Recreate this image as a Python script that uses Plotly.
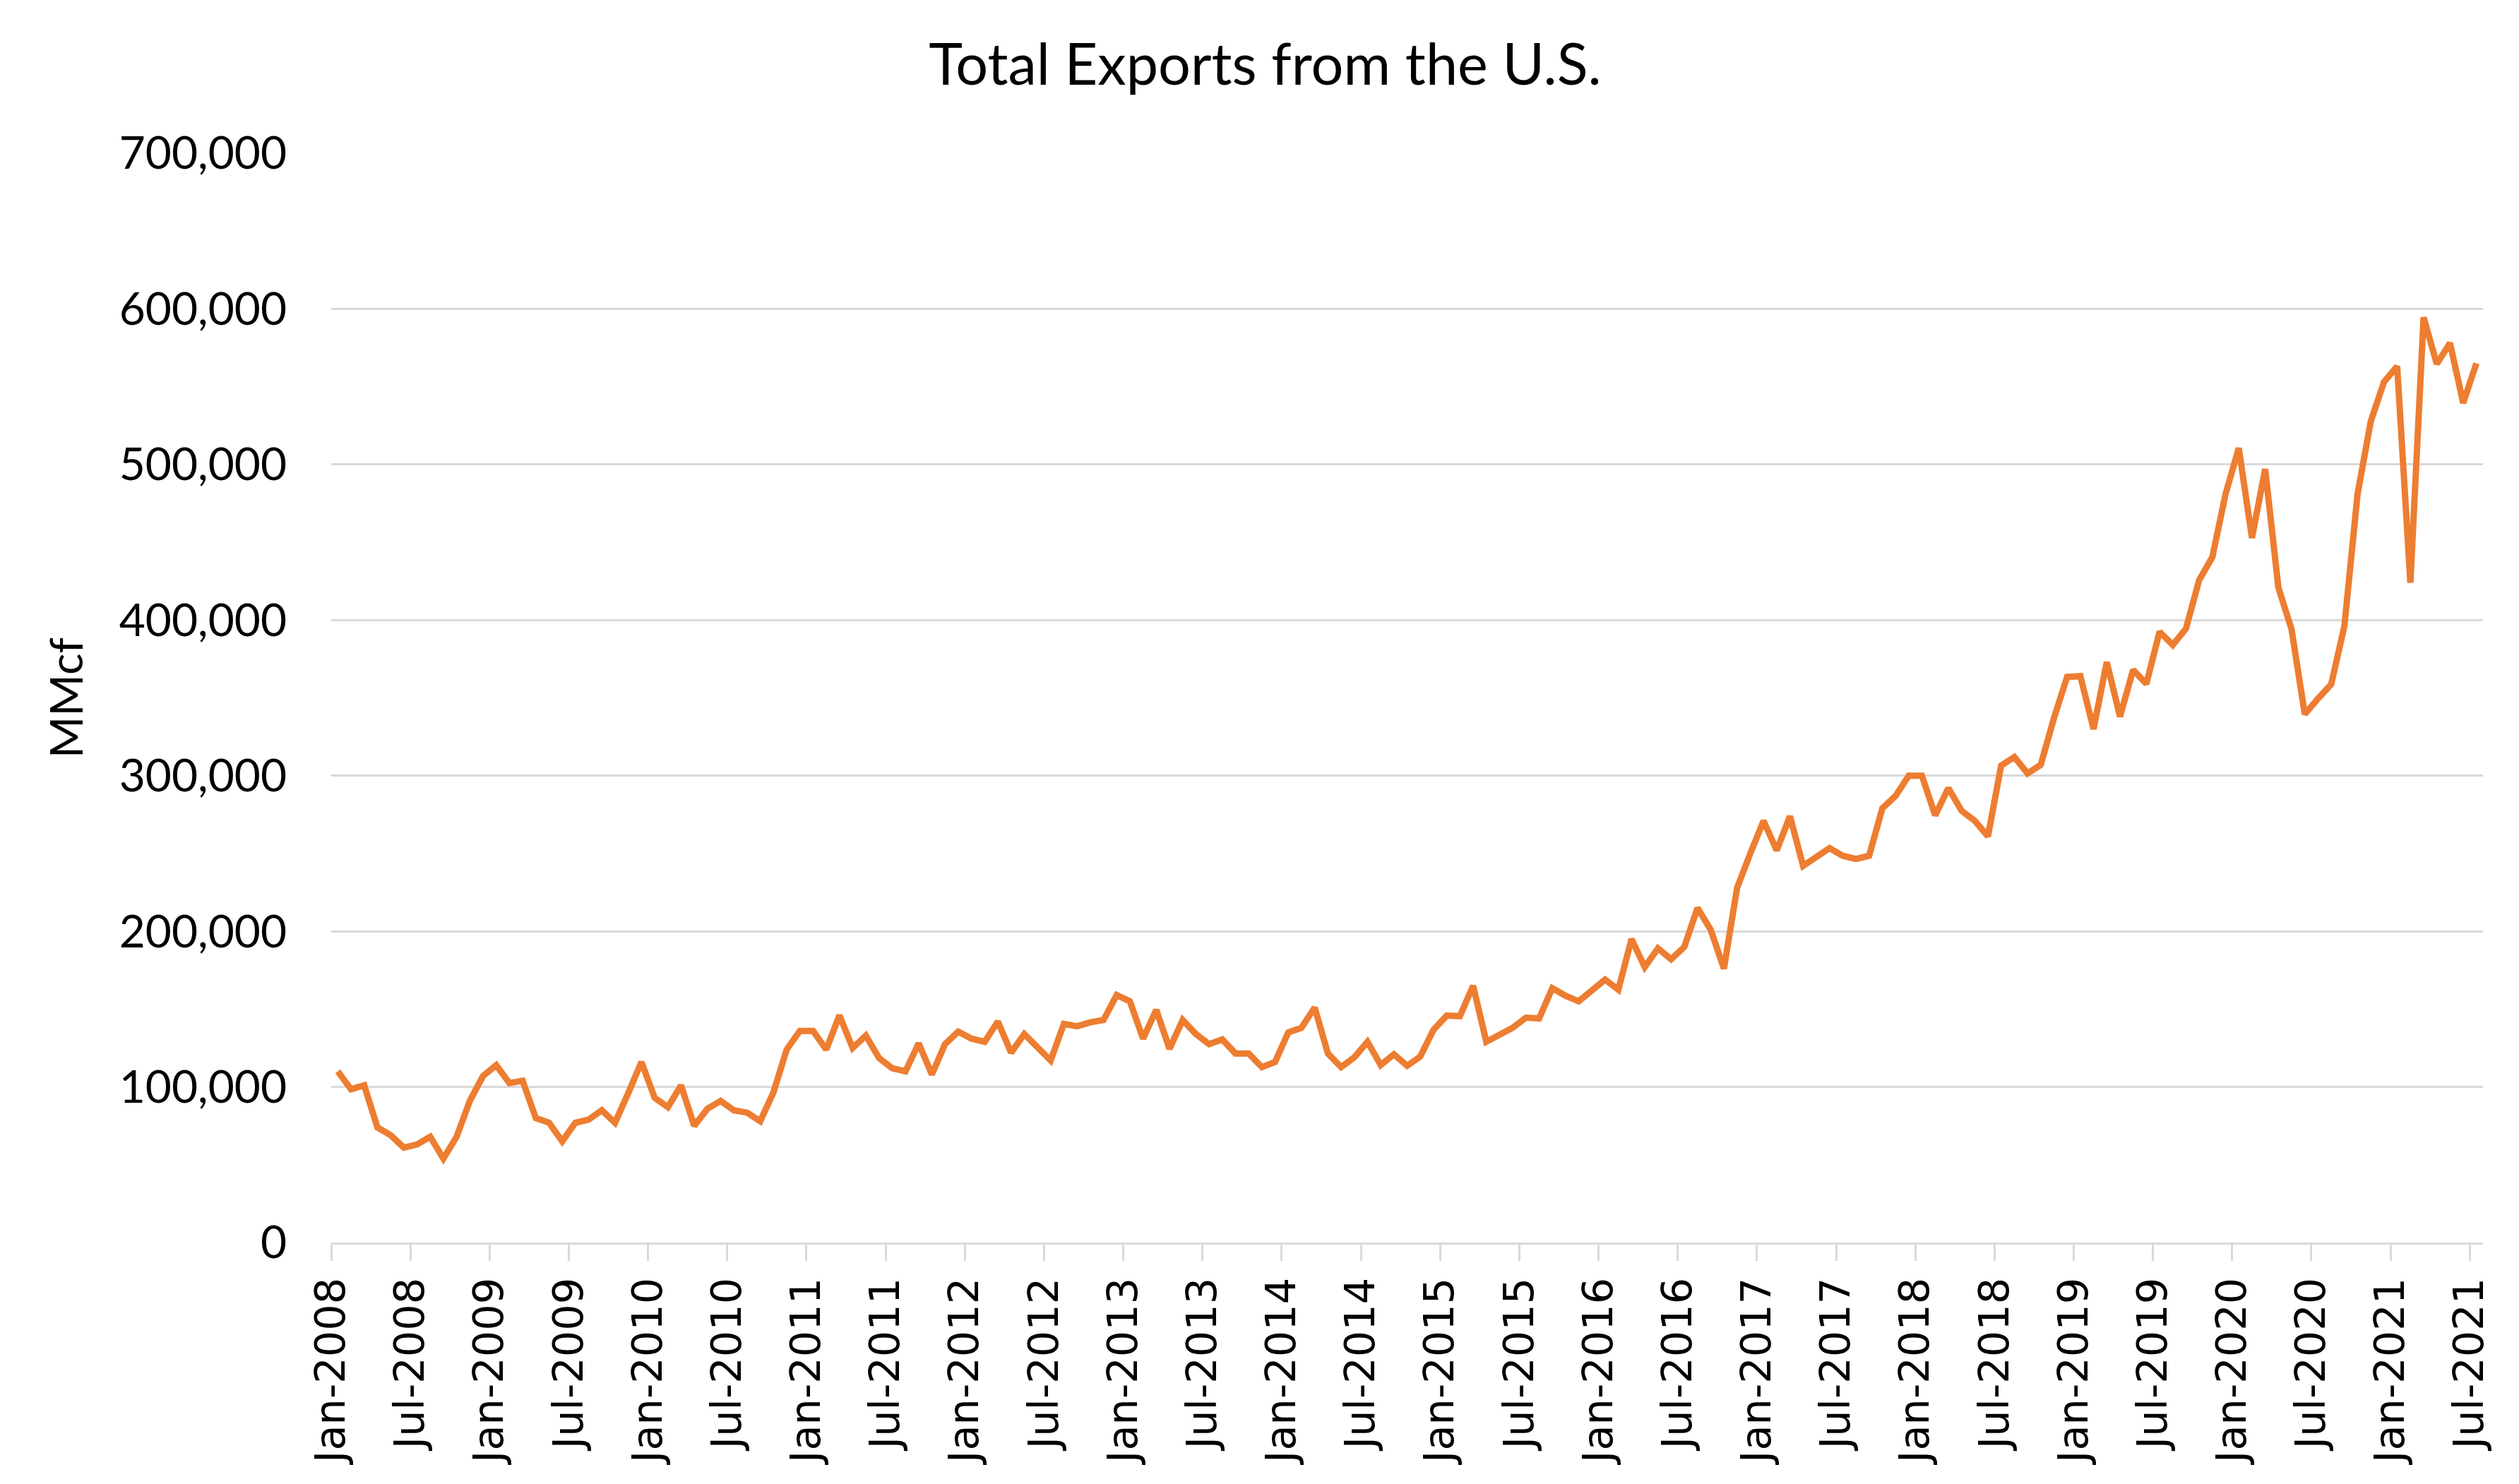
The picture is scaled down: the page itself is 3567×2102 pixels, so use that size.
import pandas as pd
import plotly.graph_objects as go

# monthly total natural gas exports, MMcf (Jan-2008 .. Jul-2021)
months = pd.date_range("2008-01-01", "2021-07-01", freq="MS").strftime("%b-%Y").tolist()

exports = [
    110000, 98500, 101000, 74000, 69000, 61000, 63000, 68000, 54000, 68000,
    91000, 107000, 114000, 102500, 104000, 80000, 77000, 65000, 77000, 79000,
    85000, 77000, 96000, 116000, 93000, 87000, 101000, 75000, 86000, 91000,
    85000, 83500, 78000, 96500, 124000, 136000, 136000, 124000, 146000, 125000,
    133000, 118500, 112000, 110000, 128000, 108000, 127500, 135500, 131000, 129000,
    142000, 122000, 134000, 125500, 117000, 140500, 139000, 141500, 143000, 159000,
    155000, 131000, 149500, 124500, 143000, 134000, 127500, 130500, 121500, 121500,
    112700, 116000, 135000, 138000, 151000, 121500, 112700, 119000, 129000, 114000,
    121000, 113600, 119500, 136700, 145800, 145500, 165000, 129000, 133600, 138000,
    144500, 144000, 163500, 158600, 155000, 161700, 169000, 162500, 195000, 177000,
    189000, 182000, 190000, 215000, 201000, 176000, 228000, 250000, 271000, 252000,
    274000, 242000, 248000, 253500, 248500, 246500, 248500, 279000, 287000, 300000,
    300000, 274500, 292000, 277500, 271000, 261000, 306500, 312000, 301500, 307000,
    337000, 363500, 364000, 330000, 373000, 338000, 368000, 359000, 392500, 384000,
    394500, 425700, 440500, 481000, 510500, 452800, 497000, 421000, 394000, 339500,
    349500, 358700, 396000, 481000, 527700, 553000, 563000, 424000, 594500, 564600,
    578000, 539500, 565000,
]

tick_labels = [
    "Jan-2008", "Jul-2008", "Jan-2009", "Jul-2009", "Jan-2010", "Jul-2010",
    "Jan-2011", "Jul-2011", "Jan-2012", "Jul-2012", "Jan-2013", "Jul-2013",
    "Jan-2014", "Jul-2014", "Jan-2015", "Jul-2015", "Jan-2016", "Jul-2016",
    "Jan-2017", "Jul-2017", "Jan-2018", "Jul-2018", "Jan-2019", "Jul-2019",
    "Jan-2020", "Jul-2020", "Jan-2021", "Jul-2021",
]

y_ticks = [0, 100000, 200000, 300000, 400000, 500000, 600000, 700000]

x_pos = list(range(len(months)))
tick_pos = [months.index(lbl) - 0.5 for lbl in tick_labels]

grid = "#d9d9d9"

fig = go.Figure(
    go.Scatter(
        x=x_pos,
        y=exports,
        mode="lines",
        line=dict(color="#ed7d31", width=9),
        customdata=months,
        hovertemplate="%{customdata}: %{y:,}<extra></extra>",
    )
)

# page body adds an 8px offset, so margins are trimmed by that much
fig.update_layout(
    width=3567,
    height=2102,
    margin=dict(l=461, r=59, t=209, b=350),
    paper_bgcolor="white",
    plot_bgcolor="white",
    showlegend=False,
    font=dict(family="Lato", color="black"),
    title=dict(
        text="Total Exports from the U.S.",
        font=dict(family="Lato", size=81, color="black"),
        x=0.5,
        xref="container",
        xanchor="center",
        y=1 - 84 / 2102,
        yref="container",
        yanchor="middle",
    ),
)

fig.update_xaxes(
    range=[-0.5, len(months) - 0.5],
    tickmode="array",
    tickvals=tick_pos,
    ticktext=tick_labels,
    tickangle=-90,
    tickfont=dict(family="DejaVu Sans", size=59, color="black"),
    ticks="outside",
    ticklen=23,
    tickwidth=3,
    tickcolor=grid,
    showgrid=False,
    zeroline=False,
    showline=True,
    linecolor=grid,
    linewidth=3,
    automargin=False,
)

fig.update_yaxes(
    range=[0, 700000],
    tickmode="array",
    tickvals=y_ticks,
    tickformat=",d",
    tickfont=dict(family="Lato", size=64, color="black"),
    ticklabelstandoff=62,
    showgrid=True,
    gridcolor=grid,
    gridwidth=3,
    zeroline=False,
    showline=False,
    title=dict(text="MMcf", font=dict(family="Lato", size=64, color="black"), standoff=30),
    automargin=False,
)

fig.write_html("out.html")
